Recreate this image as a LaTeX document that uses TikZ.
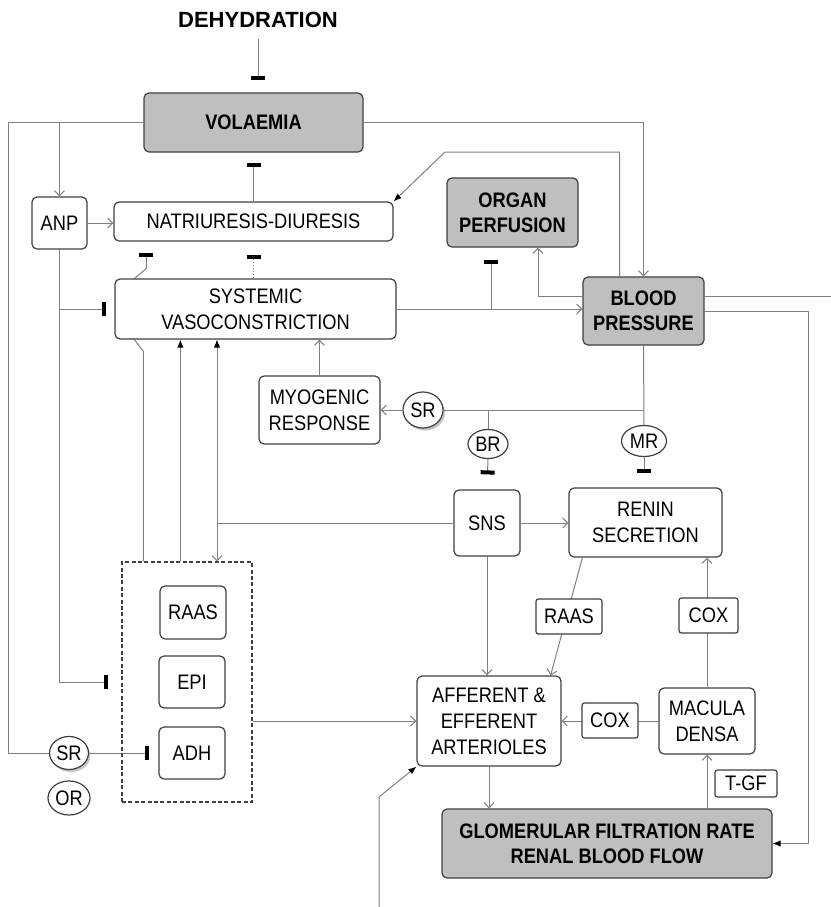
\documentclass[tikz,border=0pt]{standalone}
\usepackage{fontspec}
\setmainfont{Liberation Sans}[FakeStretch=0.87]
\newfontfamily\widefont{Liberation Sans}
\usetikzlibrary{arrows.meta,positioning,shapes.geometric,shadows,backgrounds}
\definecolor{boxline}{HTML}{404040}
\definecolor{linegray}{HTML}{808080}
\definecolor{fillgray}{HTML}{BFBFBF}
\tikzset{
  box/.style={rectangle,rounded corners=2.5pt,draw=boxline,fill=white,line width=0.6pt,
              text=black,align=center,font=\fontsize{10.5}{13}\selectfont,inner sep=2pt},
  gbox/.style={box,fill=fillgray,font=\fontsize{10.5}{12.5}\selectfont\bfseries},
  sbox/.style={box,rounded corners=1.2pt},
  hbox/.style={rectangle,draw=boxline,line width=0.6pt,dash pattern=on 2pt off 1.2pt,inner sep=0pt},
  oval/.style={ellipse,draw=boxline,fill=white,line width=0.6pt,inner sep=0pt,
               font=\fontsize{10.5}{13}\selectfont},
  shad/.style={drop shadow={shadow xshift=1pt,shadow yshift=-1.3pt,opacity=0.45}},
  title/.style={font=\widefont\fontsize{11}{13}\selectfont\bfseries,inner sep=2pt},
  ln/.style={draw=linegray,line width=0.5pt},
  fl/.style={ln,-{Straight Barb[length=2.5pt,width=5pt]}},
  flf/.style={ln,-{Latex[length=4pt,width=3.2pt,color=black]}},
  inh/.style={ln,-{Bar[width=7pt,line width=2pt,color=black]}},
}
\begin{document}
\begin{tikzpicture}[x=0.5pt,y=-0.5pt]
\useasboundingbox (0,0) rectangle (831,907);
% top row
\node[title] (dehy) at (258,20) {DEHYDRATION};
\node[gbox,minimum width=109.5pt,minimum height=29.5pt] (vol) at (253.5,122.5) {VOLAEMIA};
\node[box,minimum width=27.5pt,minimum height=26pt] (anp) at (59.5,223) {ANP};
\node[box,minimum width=139.5pt,minimum height=19.5pt] (nat) at (253.5,221.5) {NATRIURESIS-DIURESIS};
\node[gbox,minimum width=65.5pt,minimum height=34.5pt] (org) at (512.5,212.5) {ORGAN\\PERFUSION};
\node[gbox,minimum width=60.5pt,minimum height=34pt] (bp) at (643.5,311) {BLOOD\\PRESSURE};
\node[box,minimum width=140.5pt,minimum height=30pt] (sys) at (255.5,309) {SYSTEMIC\\VASOCONSTRICTION};
% receptors
\node[box,minimum width=60.5pt,minimum height=34pt] (myo) at (319.5,410) {MYOGENIC\\RESPONSE};
\node[oval,shad,minimum width=20pt,minimum height=18pt] (sr1) at (423,410) {SR};
\node[oval,minimum width=20pt,minimum height=14.5pt] (br) at (488,444) {BR};
\node[oval,minimum width=22.5pt,minimum height=15.5pt] (mr) at (644,441) {MR};
\node[box,minimum width=33pt,minimum height=33pt] (sns) at (487,523) {SNS};
\node[box,minimum width=76.5pt,minimum height=34.5pt] (ren) at (645.5,522.5) {RENIN\\SECRETION};
% kidney
\node[box,minimum width=72pt,minimum height=45pt] (aff) at (489,721) {AFFERENT \&\\EFFERENT\\ARTERIOLES};
\node[box,minimum width=48pt,minimum height=33pt] (mac) at (707,721) {MACULA\\DENSA};
\node[sbox,minimum width=28pt,minimum height=17.5pt] (cox2) at (610,720.5) {COX};
\node[sbox,minimum width=29.5pt,minimum height=17.5pt] (cox1) at (708.5,615.5) {COX};
\node[sbox,minimum width=33pt,minimum height=17.5pt] (raas2) at (569,616.5) {RAAS};
\node[sbox,minimum width=31pt,minimum height=13.5pt] (tgf) at (746,783.5) {T-GF};
\node[gbox,minimum width=165pt,minimum height=34.5pt] (gfr) at (607,843.5) {GLOMERULAR FILTRATION RATE\\RENAL BLOOD FLOW};
% hormones
\node[hbox,minimum width=65pt,minimum height=120pt] (horm) at (187,682) {};
\node[box,minimum width=33pt,minimum height=26.5pt] (raas) at (193,612.5) {RAAS};
\node[box,minimum width=33pt,minimum height=26pt] (epi) at (192,682) {EPI};
\node[box,minimum width=33pt,minimum height=26pt] (adh) at (192,753) {ADH};
\node[oval,shad,minimum width=19.5pt,minimum height=16.5pt] (sr2) at (69,753) {SR};
\node[oval,minimum width=21pt,minimum height=17pt] (or) at (69,798) {OR};
% free ends
\coordinate (edgeL) at (8,122.5);
\coordinate (edgeR) at (808,311);
\coordinate (exitR) at (831,296);
\coordinate (inB) at (379,907);
\coordinate (kink) at (445,152);
\coordinate (ob) at ([xshift=-10.75pt]org.south);
\begin{scope}[on background layer]
\draw[inh,shorten <=3.5pt,shorten >=6pt] (dehy.south) -- (dehy.south |- vol.north);
\draw[ln] (vol.west) -- (edgeL) |- (sr2.west);
\draw[fl] (vol.west -| anp.north) -- (anp.north);
\draw[fl] (anp.east) -- (anp.east -| nat.west);
\draw[inh,shorten >=5pt] (nat.north) -- (vol.south);
\draw[inh,shorten >=4pt] (anp.south) |- (sys.west);
\draw[inh,shorten >=6.5pt] (anp.south) |- (horm.west |- epi.west);
\draw[inh,densely dotted] (nat.south |- sys.north) -- ([yshift=-6.5pt]nat.south);
\draw[inh] ([xshift=11pt]horm.north west) -- ++(0,-210) -- ++(-10,-13) -- ++(0,-59)
   -- ++(13,-11) -- ++(0,-15);
\draw[flf] ([xshift=29.5pt]horm.north west) -- ([xshift=29.5pt]horm.north west |- sys.south);
\draw[ln] (sns.west) -- (sns.west -| 217,0) coordinate (j1);
\draw[flf] (j1) -- (j1 |- sys.south);
\draw[fl] (j1) -- (j1 |- horm.north);
\draw[fl] (myo.north) -- (myo.north |- sys.south);
\draw[fl] (sr1.west) -- (myo.east);
\draw[ln] (bp.south) -- (mr.north);
\draw[ln] (sr1.east) -- (sr1.east -| bp.south);
\draw[ln] (sr1.east -| br.north) -- (br.north);
\draw[inh,shorten >=7.5pt] (br.south) -- (sns.north);
\draw[inh,shorten >=7pt] (mr.south) -- (mr.south |- ren.north);
\draw[fl] (sns.east) -- (sns.east -| ren.west);
\draw[fl] (sns.south) -- (sns.south |- aff.north);
\draw[fl] ([xshift=7pt]ren.south west) -- ([xshift=-5.5pt]aff.north east);
\draw[fl] (mac.north) -- (mac.north |- ren.south);
\draw[fl] (mac.west) -- (aff.east);
\draw[fl] (aff.south) -- (aff.south |- gfr.north);
\draw[fl] (gfr.north -| mac.south) -- (mac.south);
\draw[flf] (bp.east) -- (edgeR) |- (gfr.east);
\draw[ln] ([yshift=7.5pt]bp.east) -- (exitR);
\draw[fl] ([yshift=7.5pt]bp.west) -| ([xshift=12.75pt]org.south);
\draw[fl] (sys.east) -- (sys.east -| bp.west);
\draw[inh,shorten >=6pt] (sys.east -| ob) -- (ob);
\draw[fl] (vol.east) -| (bp.north);
\draw[flf] ([xshift=-12pt]bp.north) |- (kink) -- (nat.north east);
\draw[fl] (horm.east |- aff.west) -- (aff.west);
\draw[flf] (inB) -- ++(0,-110) -- (aff.south west);
\draw[inh,shorten >=4.5pt] (sr2.east) -- (adh.west);
\end{scope}
\end{tikzpicture}
\end{document}
